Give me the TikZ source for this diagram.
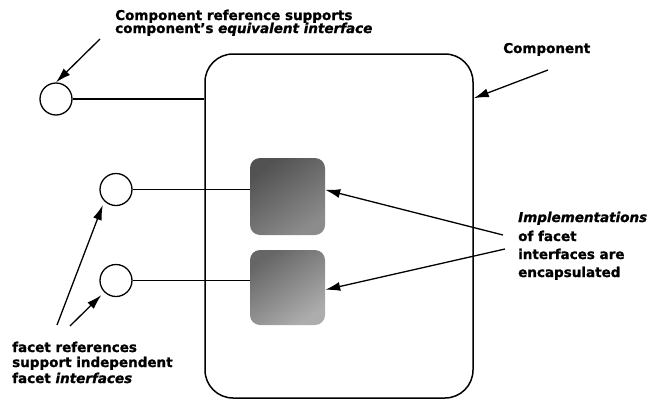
\documentclass[tikz,border=0pt]{standalone}
\usepackage{fontspec}
\setmainfont{DejaVu Sans}[BoldFeatures={FakeBold=1.2},BoldItalicFeatures={FakeBold=1.2}]
\usetikzlibrary{arrows.meta,calc}
\begin{document}
\begin{tikzpicture}[x=1pt,y=-1pt,
  every node/.style={font=\fontsize{13.5}{15}\selectfont\bfseries},
  lbl/.style={anchor=base west, inner sep=0pt},
  port/.style={draw, circle, minimum size=32pt, inner sep=0pt, line width=1.3pt},
  impl/.style={rounded corners=10pt, minimum width=75pt, inner sep=0pt},
  compbox/.style={draw, rounded corners=28pt, minimum width=268pt, minimum height=344pt, line width=1.5pt, inner sep=0pt},
  wire/.style={line width=1.1pt},
  ptr/.style={line width=1.3pt, -{Latex[length=15pt,width=9pt]}}]
\useasboundingbox (0,0) rectangle (652,399);
% component
\node[compbox] (comp) at (339,226) {};
% facet implementations
\node[impl, minimum height=77pt, top color=black!68, bottom color=black!45, shading angle=35] (b1) at (287.5,196.5) {};
\node[impl, minimum height=75pt, top color=black!60, bottom color=black!32, shading angle=35] (b2) at (287.5,287.5) {};
% ports
\node[port] (c1) at (56,99) {};
\node[port] (c2) at (116,189.5) {};
\node[port] (c3) at (116,280.5) {};
\draw[wire] (c1) -- (c1 -| comp.west);
\draw[wire] (c2) -- (c2 -| b1.west);
\draw[wire] (c3) -- (c3 -| b2.west);
% labels
\node[lbl] (l1a) at (115,20) {Component reference supports};
\node[lbl] (l1b) at (115,33) {component’s \textit{equivalent interface}};
\node[lbl] (l2) at (503,53) {Component};
\node[lbl] (l3a) at (518,222) {\textit{Implementations}};
\node[lbl] (l3b) at (518,241) {of facet};
\node[lbl] (l3c) at (518,259) {interfaces are};
\node[lbl] (l3d) at (518,277) {encapsulated};
\node[lbl] (l4a) at (12,352) {facet references};
\node[lbl] (l4b) at (12,367) {support independent};
\node[lbl] (l4c) at (12,383) {facet \textit{interfaces}};
% pointers
\coordinate (t1) at (100,39);
\draw[ptr] (t1) -- (c1.north);
\coordinate (t2) at (548,70);
\coordinate (h2) at ($(comp.north east)+(0,45)$);
\draw[ptr] (t2) -- (h2);
\coordinate (t3) at (503,235);
\coordinate (h3) at ($(b1.north east)+(0,32)$);
\draw[ptr] (t3) -- (h3);
\coordinate (t4) at (505,249);
\coordinate (h4) at ($(b2.north east)+(0,40)$);
\draw[ptr] (t4) -- (h4);
\coordinate (t5) at (57,325);
\draw[ptr, shorten >=4pt] (t5) -- (c2.south west);
\coordinate (t6) at (70,326);
\draw[ptr, shorten >=4pt] (t6) -- (c3.south west);
\end{tikzpicture}
\end{document}
